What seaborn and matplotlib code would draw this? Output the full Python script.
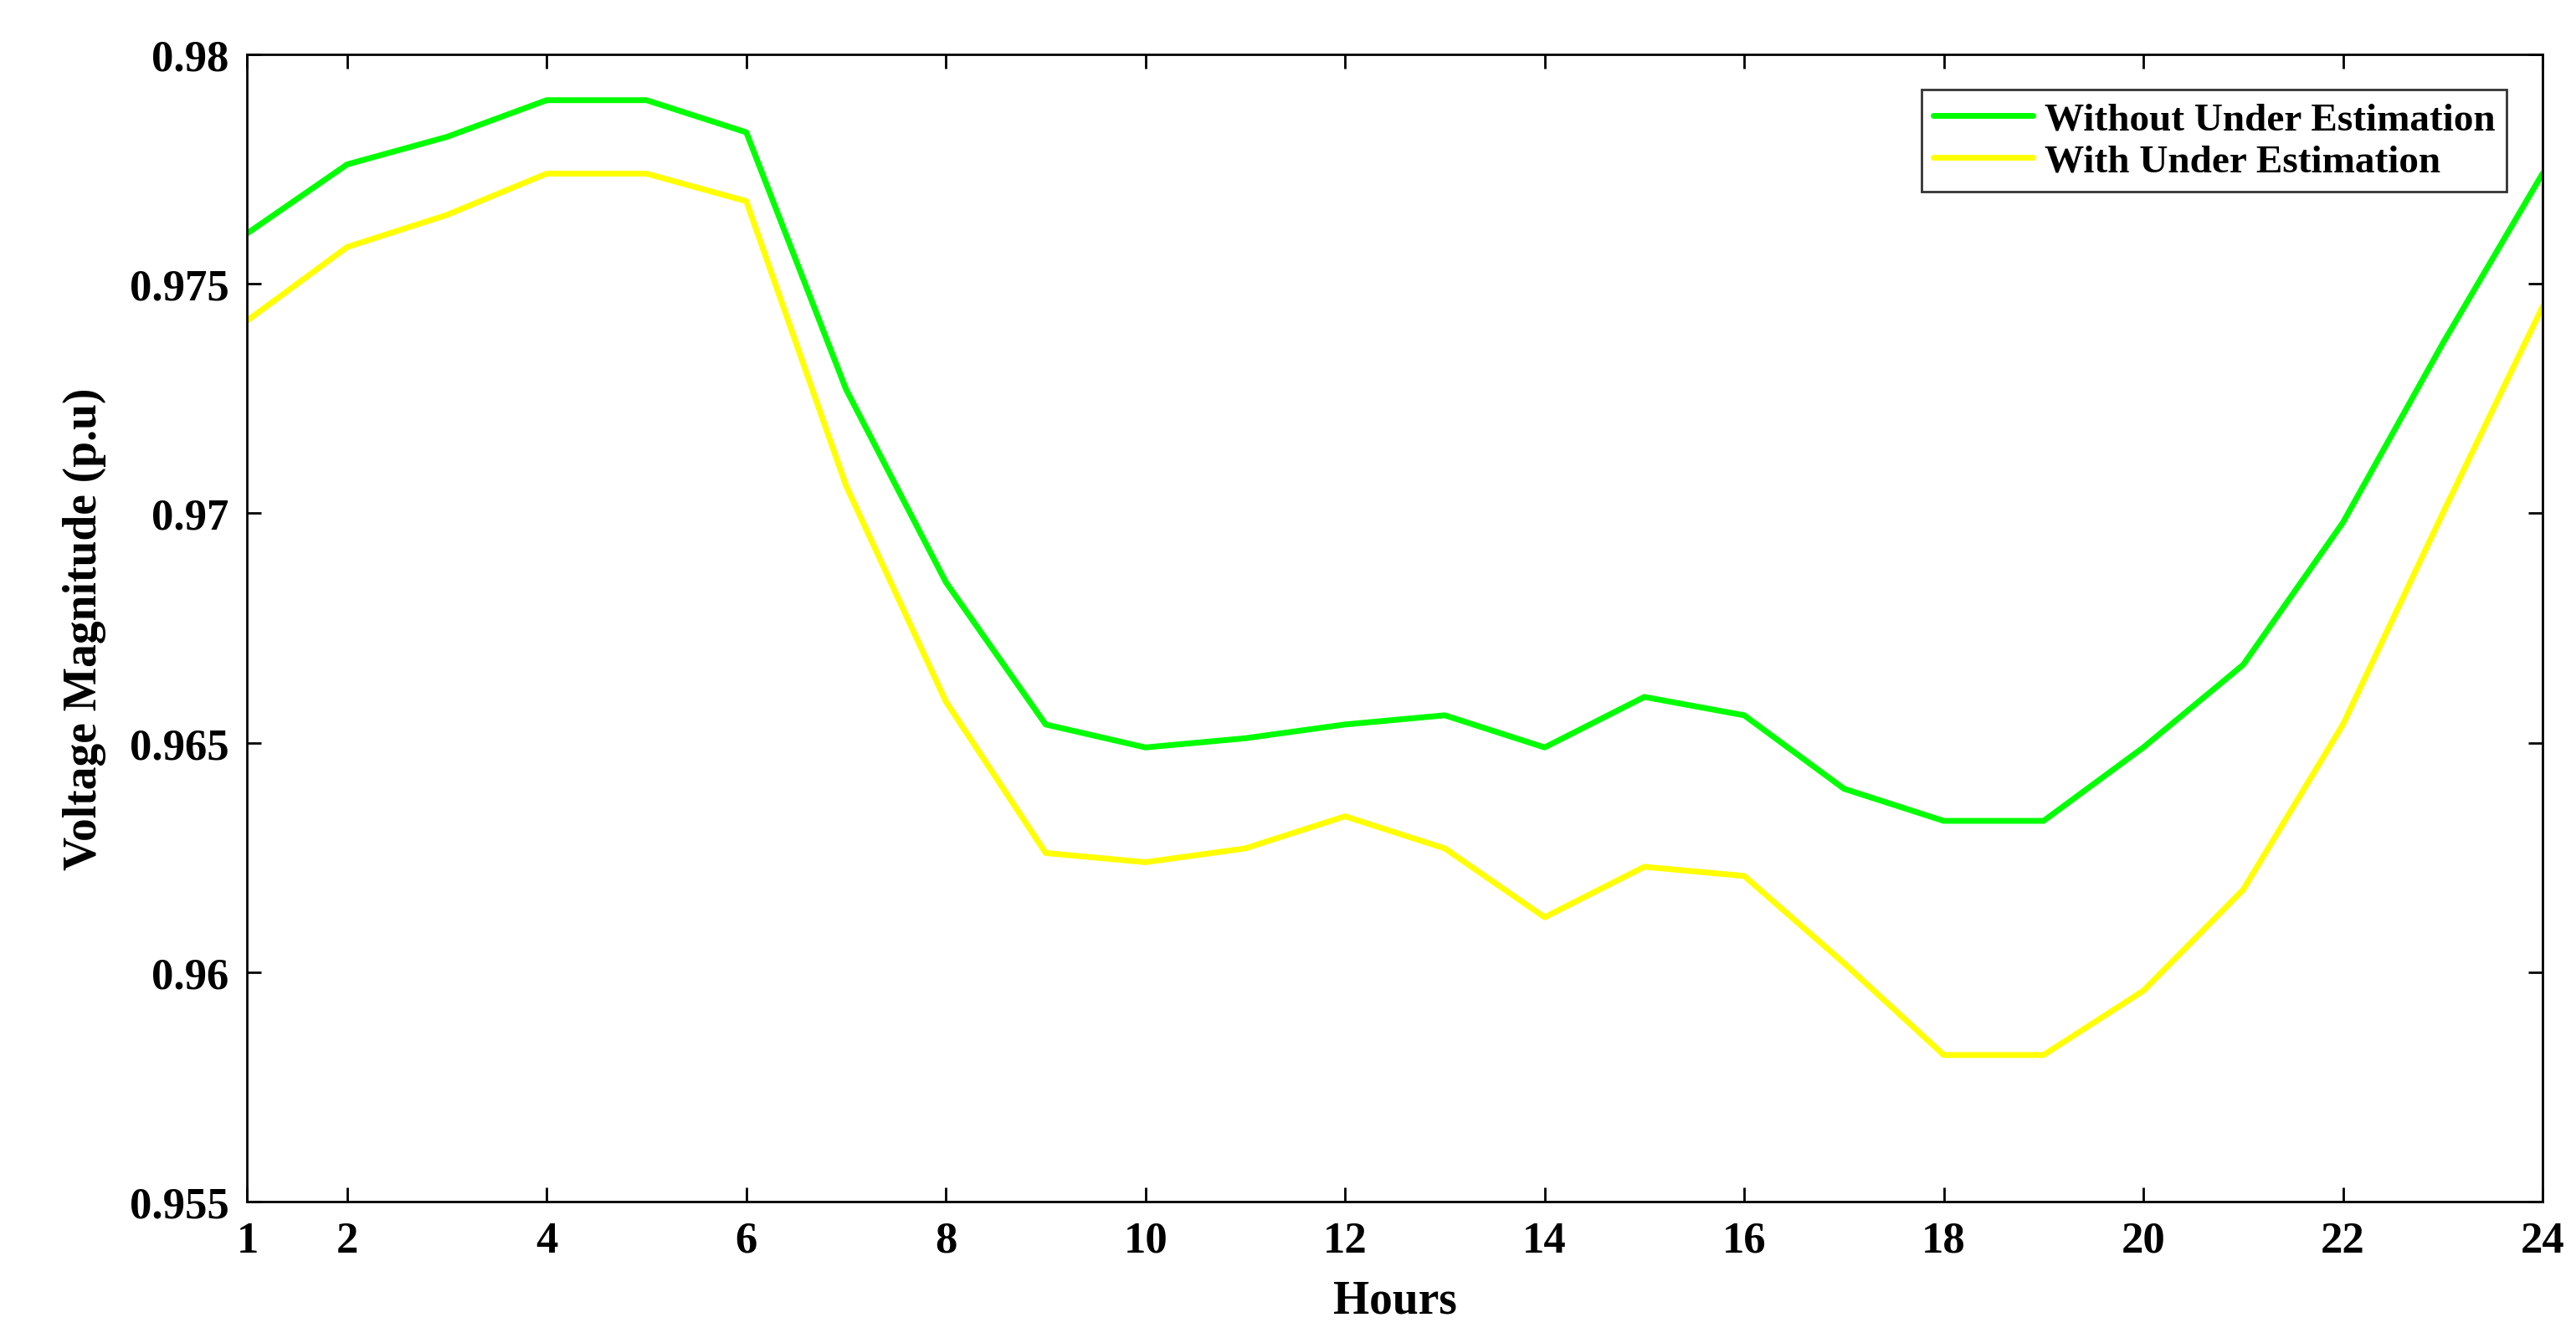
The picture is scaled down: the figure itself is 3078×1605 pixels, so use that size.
import matplotlib
matplotlib.use("Agg")
import matplotlib.pyplot as plt
import seaborn as sns
import pandas as pd

hours = list(range(1, 25))
without_under = [0.9761, 0.9776, 0.9782, 0.9790, 0.9790, 0.9783, 0.9727, 0.9685, 0.9654, 0.9649, 0.9651, 0.9654,
                 0.9656, 0.9649, 0.9660, 0.9656, 0.9640, 0.9633, 0.9633, 0.9649, 0.9667, 0.9698, 0.9737, 0.9774]
with_under = [0.9742, 0.9758, 0.9765, 0.9774, 0.9774, 0.9768, 0.9706, 0.9659, 0.9626, 0.9624, 0.9627, 0.9634,
              0.9627, 0.9612, 0.9623, 0.9621, 0.9602, 0.9582, 0.9582, 0.9596, 0.9618, 0.9654, 0.9700, 0.9745]
xticks = [1, 2, 4, 6, 8, 10, 12, 14, 16, 18, 20, 22, 24]
yticks = [0.955, 0.96, 0.965, 0.97, 0.975, 0.98]
ytick_labels = ["0.955", "0.96", "0.965", "0.97", "0.975", "0.98"]

sns.set_style("white")
plt.rcParams['font.family'] = ['Liberation Serif', 'DejaVu Serif']
plt.rcParams['font.weight'] = 'bold'
plt.rcParams['text.color'] = 'black'
plt.rcParams['xtick.color'] = 'black'
plt.rcParams['ytick.color'] = 'black'
plt.rcParams['axes.labelcolor'] = 'black'

df = pd.DataFrame({"Hours": hours * 2,
                   "V": without_under + with_under,
                   "Series": ["Without Under Estimation"] * 24 + ["With Under Estimation"] * 24})

fig = plt.figure(figsize=(15.39, 8.03), dpi=200)
ax = fig.add_axes([0.096, 0.105, 0.891, 0.854])
sns.lineplot(data=df, x="Hours", y="V", hue="Series",
             palette={"Without Under Estimation": "#00ff00", "With Under Estimation": "#ffff00"},
             linewidth=2.5, ax=ax)
ax.set_xlim(1, 24)
ax.set_ylim(0.955, 0.98)
ax.set_xticks(xticks)
ax.set_xticklabels([str(x) for x in xticks], fontsize=19, fontweight='bold')
ax.set_yticks(yticks)
ax.set_yticklabels(ytick_labels, fontsize=19, fontweight='bold')
ax.set_xlabel("Hours", fontsize=20, fontweight='bold', labelpad=8)
ax.set_ylabel("Voltage Magnitude (p.u)", fontsize=20, fontweight='bold', labelpad=10)
ax.tick_params(direction='in', length=6, width=1, top=True, right=True, bottom=True, left=True, pad=8)
for s in ax.spines.values():
    s.set_color('black'); s.set_linewidth(1)
leg = ax.legend(loc='upper right', frameon=True, fancybox=False,
                edgecolor='black', handlelength=2.5, handletextpad=0.3, borderaxespad=0.9,
                borderpad=0.3, labelspacing=0.15,
                prop={'weight': 'bold', 'size': 17})
leg.get_frame().set_linewidth(1)
fig.savefig("out.png", dpi=200)
